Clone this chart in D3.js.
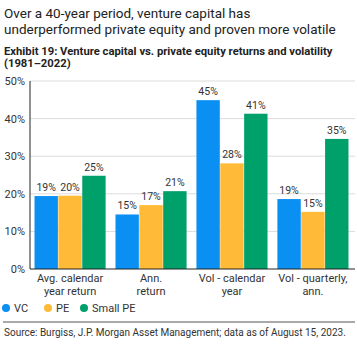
<!DOCTYPE html>
<html>
<head>
<meta charset="utf-8">
<script src="https://cdn.jsdelivr.net/npm/d3@7"></script>
<style>
  body { margin: 0; background: #fff; overflow: hidden; }
  svg { display: block; }
  text { font-family: Roboto, "Liberation Sans", sans-serif; }
</style>
</head>
<body>
<div id="chart"></div>
<script>
// Data
const categories = [
  ["Avg. calendar", "year return"],
  ["Ann.", "return"],
  ["Vol - calendar", "year"],
  ["Vol - quarterly,", "ann."]
];
const seriesNames = ["VC", "PE", "Small PE"];
const vcValues = [19.4, 14.5, 44.9, 18.6];
const peValues = [19.5, 17.0, 28.1, 15.2];
const smallPeValues = [24.8, 20.7, 41.3, 34.6];
const yTicks = [0, 10, 20, 30, 40, 50];
const colors = ["#0a8ff2", "#ffbb38", "#00a06a"];

const width = 357, height = 352;
const margin = { top: 81, right: 2, bottom: 83, left: 30 };
const innerWidth = width - margin.left - margin.right;
const innerHeight = height - margin.top - margin.bottom;

const svg = d3.select('#chart')
  .append('svg')
  .attr('width', width)
  .attr('height', height);

// shrink a text line's font until it fits the width seen in the reference
function fitLine(sel, target) {
  let size = parseFloat(sel.style('font-size'));
  while (sel.node().getComputedTextLength() > target && size > 6) {
    size -= 0.25;
    sel.style('font-size', size + 'px');
  }
  return sel;
}

// Titles
const titleLines = ['Over a 40-year period, venture capital has',
  'underperformed private equity and proven more volatile'];
const titleSel = svg.append('g').selectAll('text')
  .data(titleLines)
  .join('text')
  .attr('x', 4)
  .attr('y', (d, i) => 18 + i * 16)
  .attr('fill', '#222')
  .style('font-size', '15px')
  .text(d => d);
fitLine(d3.select(titleSel.nodes()[1]), 334);
titleSel.style('font-size', d3.select(titleSel.nodes()[1]).style('font-size'));

const subLines = ['Exhibit 19: Venture capital vs. private equity returns and volatility',
  '(1981\u20132022)'];
const subSel = svg.append('g').selectAll('text')
  .data(subLines)
  .join('text')
  .attr('x', 4)
  .attr('y', (d, i) => 55 + i * 11.5)
  .attr('fill', '#222')
  .style('font-size', '11.5px')
  .style('font-weight', 'bold')
  .text(d => d);
fitLine(d3.select(subSel.nodes()[0]), 331);
subSel.style('font-size', d3.select(subSel.nodes()[0]).style('font-size'));

const g = svg.append('g')
  .attr('transform', `translate(${margin.left},${margin.top})`);

const yScale = d3.scaleLinear()
  .domain([0, 50])
  .range([innerHeight, 0]);

const x0 = d3.scaleBand()
  .domain(d3.range(categories.length))
  .range([0, innerWidth - 2])
  .paddingInner(0.11)
  .paddingOuter(0.05);

const x1 = d3.scaleBand()
  .domain(d3.range(seriesNames.length))
  .range([0, x0.bandwidth()])
  .padding(0.02);

// Gridlines
g.append('g')
  .selectAll('line')
  .data(yTicks.slice(1))
  .join('line')
  .attr('x1', 0)
  .attr('x2', innerWidth)
  .attr('y1', d => yScale(d))
  .attr('y2', d => yScale(d))
  .attr('stroke', '#dcdcdc')
  .attr('stroke-width', 1);

// Y axis labels
const yAxis = d3.axisLeft(yScale)
  .tickValues(yTicks)
  .tickFormat(d => d + '%')
  .tickSize(0)
  .tickPadding(5);
const yg = g.append('g').call(yAxis);
yg.select('.domain').remove();
yg.selectAll('text')
  .attr('fill', '#333')
  .style('font-size', '11px')
  .style('font-family', 'Roboto, "Liberation Sans", sans-serif');

// Bars
const allSeries = [vcValues, peValues, smallPeValues];
const fmt = d => Math.round(d) + '%';
categories.forEach((cat, ci) => {
  allSeries.forEach((vals, si) => {
    const v = vals[ci];
    const bx = x0(ci) + x1(si);
    g.append('rect')
      .attr('x', bx)
      .attr('y', yScale(v))
      .attr('width', x1.bandwidth())
      .attr('height', innerHeight - yScale(v))
      .attr('fill', colors[si]);
    g.append('text')
      .attr('x', bx + x1.bandwidth() / 2)
      .attr('y', yScale(v) - 5)
      .attr('text-anchor', 'middle')
      .attr('fill', '#333')
      .style('font-size', '10.5px')
      .text(fmt(v));
  });
});

// Axis lines
g.append('line')
  .attr('x1', 0).attr('x2', 0)
  .attr('y1', 0).attr('y2', innerHeight)
  .attr('stroke', '#222').attr('stroke-width', 1);
g.append('line')
  .attr('x1', 0).attr('x2', innerWidth)
  .attr('y1', innerHeight).attr('y2', innerHeight)
  .attr('stroke', '#222').attr('stroke-width', 1);

// Category labels
categories.forEach((cat, ci) => {
  const t = g.append('text')
    .attr('text-anchor', 'middle')
    .attr('fill', '#333')
    .style('font-size', '11px');
  cat.forEach((line, li) => {
    t.append('tspan')
      .attr('x', x0(ci) + x0.bandwidth() / 2)
      .attr('y', innerHeight + 13 + li * 12.5)
      .text(line);
  });
});

// Legend
const legendX = [6, 48, 84];
const legend = svg.append('g');
seriesNames.forEach((name, i) => {
  legend.append('circle')
    .attr('cx', legendX[i])
    .attr('cy', 308)
    .attr('r', 4)
    .attr('fill', colors[i]);
  legend.append('text')
    .attr('x', legendX[i] + 8)
    .attr('y', 312)
    .attr('fill', '#333')
    .style('font-size', '11px')
    .text(name);
});

// Separator and source
svg.append('line')
  .attr('x1', 3).attr('x2', 355)
  .attr('y1', 322).attr('y2', 322)
  .attr('stroke', '#555').attr('stroke-width', 1);
const src = svg.append('text')
  .attr('x', 4)
  .attr('y', 336)
  .attr('fill', '#333')
  .style('font-size', '10px')
  .text('Source: Burgiss, J.P. Morgan Asset Management; data as of August 15, 2023.');
fitLine(src, 344);
</script>
</body>
</html>
